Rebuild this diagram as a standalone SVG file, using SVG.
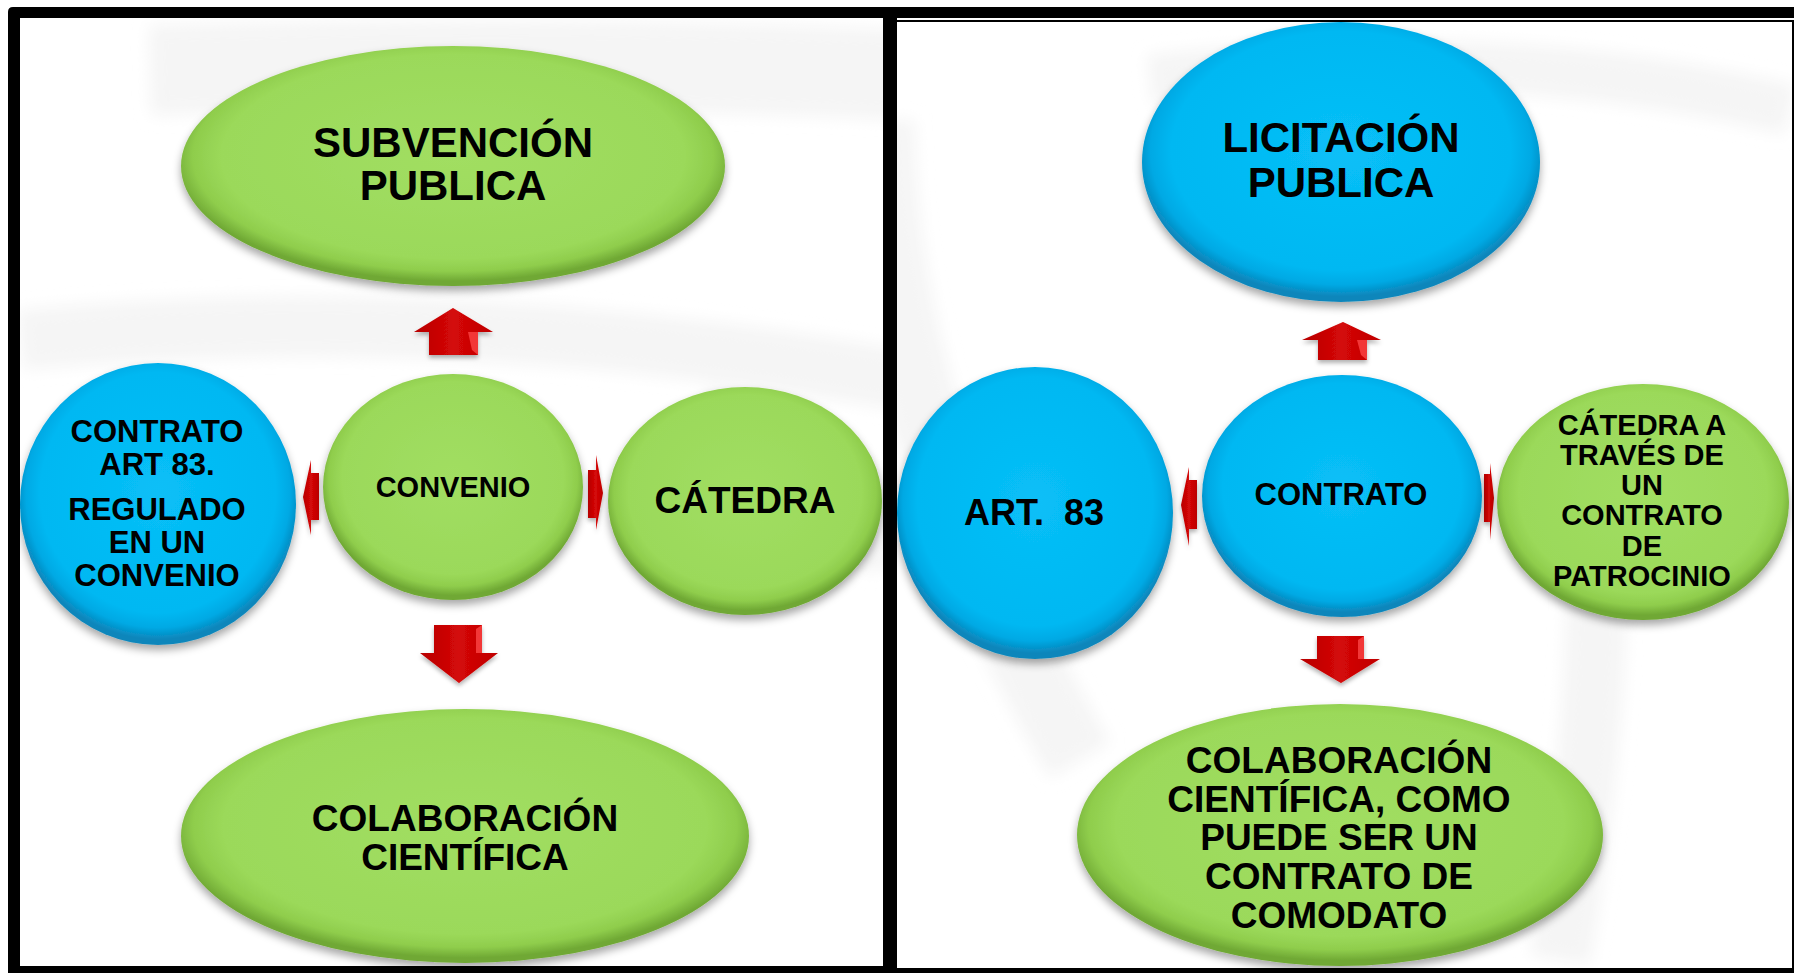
<svg xmlns="http://www.w3.org/2000/svg" width="1794" height="973" viewBox="0 0 1794 973">
<defs>
<style>
.t{font-family:"Liberation Sans",Arial,sans-serif;font-weight:bold;fill:#000;text-anchor:middle;white-space:pre}
.g{fill:url(#gGreen);filter:url(#sh)}
.b{fill:url(#gBlue);filter:url(#sh)}
.ar{fill:url(#gRed);filter:url(#shA)}
.hl{fill:#ff4a4a;opacity:0.75}
.frame{fill:#000}
.wm{fill:none;stroke:#f5f5f5}
</style>
<radialGradient id="gGreen" cx="50%" cy="46%" r="52%">
<stop offset="0" stop-color="#a1de62"/>
<stop offset="0.82" stop-color="#9bd95a"/>
<stop offset="0.92" stop-color="#8fcd4c"/>
<stop offset="1" stop-color="#6fa834"/>
</radialGradient>
<radialGradient id="gBlue" cx="50%" cy="46%" r="52%">
<stop offset="0" stop-color="#08bff7"/>
<stop offset="0.82" stop-color="#02b8f2"/>
<stop offset="0.92" stop-color="#00a9e4"/>
<stop offset="1" stop-color="#0a86bb"/>
</radialGradient>
<linearGradient id="gRed" x1="0" y1="0" x2="1" y2="0">
<stop offset="0" stop-color="#b80000"/>
<stop offset="0.5" stop-color="#d40808"/>
<stop offset="1" stop-color="#c00000"/>
</linearGradient>
<filter id="sh" x="-10%" y="-10%" width="120%" height="125%">
<feDropShadow dx="0" dy="5" stdDeviation="4" flood-color="#000" flood-opacity="0.35"/>
</filter>
<filter id="shA" x="-30%" y="-30%" width="160%" height="160%">
<feDropShadow dx="0" dy="3" stdDeviation="2" flood-color="#000" flood-opacity="0.3"/>
</filter>
<filter id="blur" x="-10%" y="-10%" width="120%" height="120%">
<feGaussianBlur stdDeviation="8"/>
</filter>
<clipPath id="cL"><rect x="20" y="18" width="863" height="948"/></clipPath>
<clipPath id="cR"><rect x="897" y="22" width="895" height="946"/></clipPath>
</defs>

<rect x="0" y="0" width="1794" height="973" fill="#fff"/>

<g id="watermark">
<g clip-path="url(#cL)">
<g filter="url(#blur)">
<path class="wm" stroke-width="90" d="M150,70 Q600,60 900,75"/>
<path class="wm" stroke-width="60" d="M20,340 Q450,300 900,380"/>
<path class="wm" stroke-width="70" d="M700,420 Q860,470 900,560"/>
</g>
</g>
<g clip-path="url(#cR)">
<g filter="url(#blur)">
<path class="wm" stroke-width="70" d="M880,120 Q880,420 1080,760"/>
<path class="wm" stroke-width="60" d="M1580,420 Q1620,600 1560,960"/>
<path class="wm" stroke-width="50" d="M1150,80 Q1500,40 1790,110"/>
</g>
</g>
</g>

<g id="connectors">
<g id="arrow-up-left">
<polygon class="ar" points="453,308 493,332 478,332 478,355 429,355 429,332 414,332"/>
<polygon class="hl" points="468,332 478,332 478,355 472,350"/>
</g>
<g id="arrow-down-left">
<polygon class="ar" points="434,625 482,625 482,653 498,653 459,683 420,653 434,653"/>
<polygon class="hl" points="476,629 482,625 482,653 476,653"/>
</g>
<g id="arrow-left-left">
<polygon class="ar" points="303,497 311,460 311,473 319,473 319,520 311,520 311,535"/>
</g>
<g id="arrow-right-left">
<polygon class="ar" points="588,470 596,470 596,455 603,493 596,530 596,518 588,518"/>
</g>
<g id="arrow-up-right">
<polygon class="ar" points="1343,322 1381,340 1367,340 1367,360 1318,360 1318,340 1302,340"/>
<polygon class="hl" points="1357,340 1367,340 1367,360 1361,355"/>
</g>
<g id="arrow-down-right">
<polygon class="ar" points="1317,636 1364,636 1364,659 1380,659 1341,683 1300,659 1317,659"/>
<polygon class="hl" points="1358,640 1364,636 1364,659 1358,659"/>
</g>
<g id="arrow-left-right">
<polygon class="ar" points="1181,505 1189,467 1189,480 1197,480 1197,529 1189,529 1189,546"/>
</g>
<g id="arrow-right-right">
<polygon class="ar" points="1484,474 1490,474 1490,463 1494,498 1490,540 1490,522 1484,522"/>
</g>
</g>

<g id="subvencion">
<ellipse class="g" cx="453" cy="166" rx="272" ry="120"/>
<text class="t" font-size="42" x="453" y="157">SUBVENCIÓN</text>
<text class="t" font-size="42" x="453" y="200">PUBLICA</text>
</g>

<g id="convenio">
<ellipse class="g" cx="453" cy="487" rx="130" ry="113"/>
<text class="t" font-size="29" x="453" y="497">CONVENIO</text>
</g>

<g id="catedra">
<ellipse class="g" cx="745" cy="501" rx="137" ry="114"/>
<text class="t" font-size="37" x="745" y="513">CÁTEDRA</text>
</g>

<g id="contrato-art83">
<ellipse class="b" cx="158" cy="504" rx="138" ry="141"/>
<text class="t" font-size="31" x="157" y="442">CONTRATO</text>
<text class="t" font-size="31" x="157" y="475">ART 83.</text>
<text class="t" font-size="31" x="157" y="520">REGULADO</text>
<text class="t" font-size="31" x="157" y="553">EN UN</text>
<text class="t" font-size="31" x="157" y="586">CONVENIO</text>
</g>

<g id="colaboracion-left">
<ellipse class="g" cx="465" cy="836" rx="284" ry="127"/>
<text class="t" font-size="37" x="465" y="831">COLABORACIÓN</text>
<text class="t" font-size="37" x="465" y="870">CIENTÍFICA</text>
</g>

<g id="licitacion">
<ellipse class="b" cx="1341" cy="162" rx="199" ry="140"/>
<text class="t" font-size="42" x="1341" y="152">LICITACIÓN</text>
<text class="t" font-size="42" x="1341" y="197">PUBLICA</text>
</g>

<g id="contrato">
<ellipse class="b" cx="1342" cy="496" rx="140" ry="121"/>
<text class="t" font-size="31" x="1341" y="505">CONTRATO</text>
</g>

<g id="art83">
<ellipse class="b" cx="1035" cy="513" rx="138" ry="146"/>
<text class="t" font-size="36" x="1034" y="525">ART.  83</text>
</g>

<g id="catedra-patrocinio">
<ellipse class="g" cx="1643" cy="502" rx="146" ry="118"/>
<text class="t" font-size="29" x="1642" y="435">CÁTEDRA A</text>
<text class="t" font-size="29" x="1642" y="465">TRAVÉS DE</text>
<text class="t" font-size="29" x="1642" y="495">UN</text>
<text class="t" font-size="29" x="1642" y="525">CONTRATO</text>
<text class="t" font-size="29" x="1642" y="556">DE</text>
<text class="t" font-size="29" x="1642" y="586">PATROCINIO</text>
</g>

<g id="colaboracion-right">
<ellipse class="g" cx="1340" cy="835" rx="263" ry="131"/>
<text class="t" font-size="37" x="1339" y="773">COLABORACIÓN</text>
<text class="t" font-size="37" x="1339" y="812">CIENTÍFICA, COMO</text>
<text class="t" font-size="37" x="1339" y="850">PUEDE SER UN</text>
<text class="t" font-size="37" x="1339" y="889">CONTRATO DE</text>
<text class="t" font-size="37" x="1339" y="928">COMODATO</text>
</g>

<g id="frame">
<path class="frame" d="M13,7 H1794 V18 H20 V966 H883 V18 H897 V968 H1794 V973 H8 V12 Q8,7 13,7 Z"/>
<rect class="frame" x="897" y="20" width="895" height="2"/>
<rect class="frame" x="1792" y="20" width="2" height="950"/>
</g>
</svg>
